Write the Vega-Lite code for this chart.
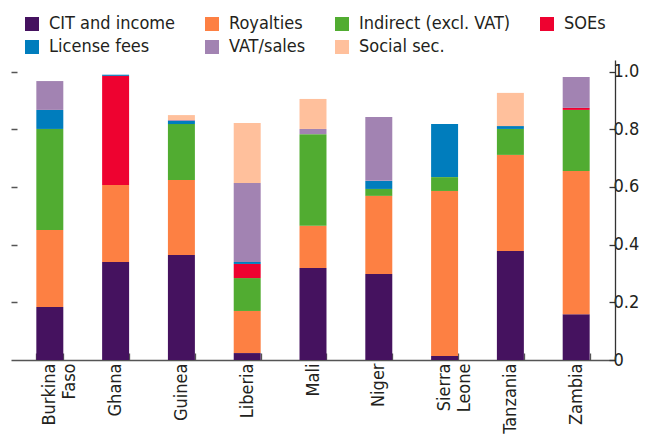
{
  "$schema": "https://vega.github.io/schema/vega-lite/v6.json",
  "width": 604,
  "height": 300,
  "autosize": {"type": "none"},
  "padding": {"left": 11, "top": 60, "right": 37, "bottom": 80},
  "background": "white",
  "config": {
    "view": {"stroke": null},
    "font": "DejaVu Sans Condensed, Liberation Sans, sans-serif",
    "axis": {"labelFont": "DejaVu Sans Condensed, Liberation Sans, sans-serif", "labelFontSize": 18, "labelColor": "#231f20"},
    "legend": {"labelFont": "DejaVu Sans Condensed, Liberation Sans, sans-serif", "labelFontSize": 18, "labelColor": "#231f20", "labelLimit": 400}
  },
  "data": {
    "values": [
      {"c": "Burkina Faso", "t": "CIT and income", "o": 1, "v": 0.184},
      {"c": "Burkina Faso", "t": "Royalties", "o": 2, "v": 0.267},
      {"c": "Burkina Faso", "t": "Indirect (excl. VAT)", "o": 3, "v": 0.350},
      {"c": "Burkina Faso", "t": "License fees", "o": 5, "v": 0.066},
      {"c": "Burkina Faso", "t": "VAT/sales", "o": 6, "v": 0.100},
      {"c": "Ghana", "t": "CIT and income", "o": 1, "v": 0.340},
      {"c": "Ghana", "t": "Royalties", "o": 2, "v": 0.267},
      {"c": "Ghana", "t": "SOEs", "o": 4, "v": 0.378},
      {"c": "Ghana", "t": "License fees", "o": 5, "v": 0.004},
      {"c": "Guinea", "t": "CIT and income", "o": 1, "v": 0.364},
      {"c": "Guinea", "t": "Royalties", "o": 2, "v": 0.260},
      {"c": "Guinea", "t": "Indirect (excl. VAT)", "o": 3, "v": 0.194},
      {"c": "Guinea", "t": "License fees", "o": 5, "v": 0.011},
      {"c": "Guinea", "t": "VAT/sales", "o": 6, "v": 0.003},
      {"c": "Guinea", "t": "Social sec.", "o": 7, "v": 0.017},
      {"c": "Liberia", "t": "CIT and income", "o": 1, "v": 0.024},
      {"c": "Liberia", "t": "Royalties", "o": 2, "v": 0.146},
      {"c": "Liberia", "t": "Indirect (excl. VAT)", "o": 3, "v": 0.114},
      {"c": "Liberia", "t": "SOEs", "o": 4, "v": 0.049},
      {"c": "Liberia", "t": "License fees", "o": 5, "v": 0.007},
      {"c": "Liberia", "t": "VAT/sales", "o": 6, "v": 0.274},
      {"c": "Liberia", "t": "Social sec.", "o": 7, "v": 0.208},
      {"c": "Mali", "t": "CIT and income", "o": 1, "v": 0.319},
      {"c": "Mali", "t": "Royalties", "o": 2, "v": 0.146},
      {"c": "Mali", "t": "Indirect (excl. VAT)", "o": 3, "v": 0.318},
      {"c": "Mali", "t": "VAT/sales", "o": 6, "v": 0.018},
      {"c": "Mali", "t": "Social sec.", "o": 7, "v": 0.104},
      {"c": "Niger", "t": "CIT and income", "o": 1, "v": 0.298},
      {"c": "Niger", "t": "Royalties", "o": 2, "v": 0.271},
      {"c": "Niger", "t": "Indirect (excl. VAT)", "o": 3, "v": 0.024},
      {"c": "Niger", "t": "License fees", "o": 5, "v": 0.028},
      {"c": "Niger", "t": "VAT/sales", "o": 6, "v": 0.221},
      {"c": "Sierra Leone", "t": "CIT and income", "o": 1, "v": 0.014},
      {"c": "Sierra Leone", "t": "Royalties", "o": 2, "v": 0.572},
      {"c": "Sierra Leone", "t": "Indirect (excl. VAT)", "o": 3, "v": 0.048},
      {"c": "Sierra Leone", "t": "License fees", "o": 5, "v": 0.184},
      {"c": "Tanzania", "t": "CIT and income", "o": 1, "v": 0.378},
      {"c": "Tanzania", "t": "Royalties", "o": 2, "v": 0.333},
      {"c": "Tanzania", "t": "Indirect (excl. VAT)", "o": 3, "v": 0.090},
      {"c": "Tanzania", "t": "License fees", "o": 5, "v": 0.010},
      {"c": "Tanzania", "t": "Social sec.", "o": 7, "v": 0.115},
      {"c": "Zambia", "t": "CIT and income", "o": 1, "v": 0.159},
      {"c": "Zambia", "t": "Royalties", "o": 2, "v": 0.496},
      {"c": "Zambia", "t": "Indirect (excl. VAT)", "o": 3, "v": 0.212},
      {"c": "Zambia", "t": "SOEs", "o": 4, "v": 0.007},
      {"c": "Zambia", "t": "VAT/sales", "o": 6, "v": 0.107}
    ]
  },
  "encoding": {
    "x": {
      "field": "c",
      "type": "nominal",
      "sort": ["Burkina Faso", "Ghana", "Guinea", "Liberia", "Mali", "Niger", "Sierra Leone", "Tanzania", "Zambia"],
      "scale": {"paddingInner": 0.59, "paddingOuter": 0.385},
      "axis": {
        "title": null,
        "labelAngle": -90,
        "labelAlign": "right",
        "labelBaseline": "middle",
        "labelExpr": "datum.label == 'Burkina Faso' ? ['Burkina', 'Faso'] : datum.label == 'Sierra Leone' ? ['Sierra', 'Leone'] : datum.label",
        "labelLineHeight": 20,
        "tickBand": "extent",
        "tickSize": -7,
        "tickColor": "#555555",
        "tickWidth": 1.3,
        "domainColor": "#555555",
        "domainWidth": 1.3,
        "labelPadding": 10
      }
    },
    "color": {
      "field": "t",
      "type": "nominal",
      "scale": {
        "domain": ["CIT and income", "Royalties", "Indirect (excl. VAT)", "SOEs", "License fees", "VAT/sales", "Social sec."],
        "range": ["#45125f", "#fd8043", "#51ac31", "#ee0230", "#007dbd", "#a283b2", "#ffc09c"]
      },
      "legend": {
        "orient": "none",
        "legendX": 12,
        "legendY": -45,
        "columns": 4,
        "direction": "horizontal",
        "title": null,
        "symbolType": "square",
        "symbolSize": 196,
        "symbolStrokeWidth": 0,
        "symbolOpacity": 1,
        "columnPadding": 27,
        "rowPadding": 5,
        "labelOffset": 8
      }
    },
    "order": {"field": "o", "type": "quantitative"}
  },
  "layer": [
    {
      "mark": {"type": "bar"},
      "encoding": {
        "y": {
          "field": "v",
          "type": "quantitative",
          "stack": "zero",
          "scale": {"domain": [0, 1.04], "nice": false, "zero": true},
          "axis": {
            "orient": "right",
            "title": null,
            "grid": false,
            "values": [0, 0.2, 0.4, 0.6, 0.8, 1.0],
            "labelExpr": "datum.value == 0 ? '0' : format(datum.value, '.1f')",
            "tickSize": -6,
            "tickColor": "#333333",
            "tickWidth": 1.3,
            "domainColor": "#333333",
            "domainWidth": 1.3,
            "labelPadding": 4
          }
        }
      }
    },
    {
      "mark": {"type": "bar", "opacity": 0},
      "encoding": {
        "y": {
          "field": "v",
          "type": "quantitative",
          "stack": "zero",
          "scale": {"domain": [0, 1.04], "nice": false, "zero": true},
          "axis": {
            "orient": "left",
            "title": null,
            "grid": false,
            "labels": false,
            "domain": false,
            "values": [0.2, 0.4, 0.6, 0.8, 1.0],
            "tickSize": -6,
            "tickColor": "#555555",
            "tickWidth": 1.5
          }
        }
      }
    }
  ],
  "resolve": {"axis": {"y": "independent"}}
}
